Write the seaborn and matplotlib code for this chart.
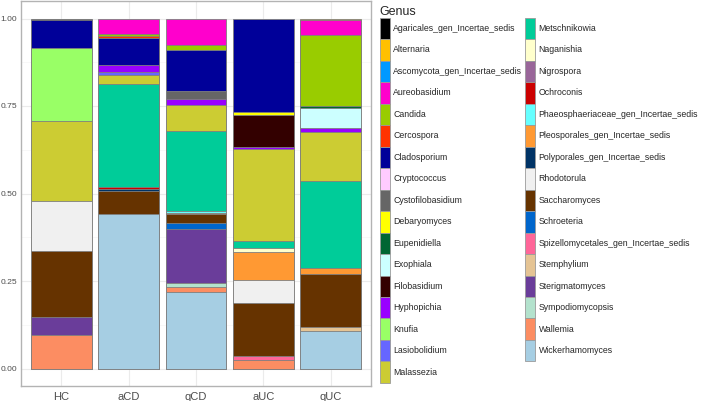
import numpy as np
import pandas as pd
import seaborn as sns
import matplotlib.pyplot as plt
from matplotlib.patches import Patch

sns.set_style('white')
plt.rcParams['font.family'] = ['Liberation Sans', 'DejaVu Sans']

# 样本组
groups = ['HC', 'aCD', 'qCD', 'aUC', 'qUC']

# 属名（按字母顺序，ggplot 里第一个在最上面）
genera = ['Agaricales_gen_Incertae_sedis', 'Alternaria', 'Ascomycota_gen_Incertae_sedis',
          'Aureobasidium', 'Candida', 'Cercospora', 'Cladosporium', 'Cryptococcus',
          'Cystofilobasidium', 'Debaryomyces', 'Eupenidiella', 'Exophiala', 'Filobasidium',
          'Hyphopichia', 'Knufia', 'Lasiobolidium', 'Malassezia', 'Metschnikowia',
          'Naganishia', 'Nigrospora', 'Ochroconis', 'Phaeosphaeriaceae_gen_Incertae_sedis',
          'Pleosporales_gen_Incertae_sedis', 'Polyporales_gen_Incertae_sedis', 'Rhodotorula',
          'Saccharomyces', 'Schroeteria', 'Spizellomycetales_gen_Incertae_sedis',
          'Stemphylium', 'Sterigmatomyces', 'Sympodiomycopsis', 'Wallemia', 'Wickerhamomyces']

colors = ['#000000', '#FFC000', '#0099FF', '#FF00CC', '#99CC00', '#FF3300', '#000099',
          '#FFCCFF', '#666666', '#FFFF00', '#006633', '#CCFFFF', '#330000', '#9900FF',
          '#99FF66', '#6666FF', '#CCCC33', '#00CC99', '#FFFFCC', '#996699', '#CC0000',
          '#66FFFF', '#FF9933', '#003366', '#F0F0F0', '#663300', '#0066CC', '#FF6699',
          '#E5C494', '#6A3D9A', '#B3E2CD', '#FC8D62', '#A6CEE3']

# 相对丰度（顺序同 genera）
hc  = [.003, 0, 0, 0, 0, 0, .082, 0, 0, 0, 0, 0, 0, 0, .208, 0, .229, 0,
       0, 0, 0, 0, 0, 0, .142, .188, 0, 0, 0, .053, 0, .095, 0]
acd = [0, 0, 0, .044, .006, .006, .076, 0, 0, 0, 0, 0, 0, .021, 0, .007, .028, .294,
       0, 0, .004, 0, 0, .008, 0, .065, 0, 0, 0, 0, 0, 0, .441]
qcd = [0, 0, 0, .076, .013, 0, .119, 0, .021, 0, 0, 0, 0, .017, 0, 0, .075, .230,
       0, 0, 0, .004, .005, 0, 0, .024, .018, 0, 0, .154, .011, .013, .220]
auc = [0, 0, 0, 0, 0, 0, .266, 0, 0, .011, 0, 0, .089, .006, 0, 0, .264, .019,
       .012, 0, 0, 0, .079, 0, .066, .153, 0, .012, 0, 0, 0, .023, 0]
quc = [0, .005, 0, .042, .204, 0, 0, 0, 0, 0, .005, .057, 0, .010, 0, 0, .141, .250,
       0, 0, 0, 0, .015, 0, 0, .151, 0, 0, .013, 0, 0, 0, .107]

df = pd.DataFrame({'HC': hc, 'aCD': acd, 'qCD': qcd, 'aUC': auc, 'qUC': quc}, index=genera)
# 从下往上累加，画的时候先画最高的再覆盖
cum = df.iloc[::-1].cumsum().iloc[::-1]

fig = plt.figure(figsize=(7.02, 4.01), dpi=100)
ax = fig.add_axes([21 / 702, 15 / 401, 350 / 702, 385 / 401])

for i, g in enumerate(genera):
    keep = [grp for grp in groups if df.loc[g, grp] > 0]
    if not keep:
        continue
    sns.barplot(x=keep, y=[cum.loc[g, grp] for grp in keep], order=groups,
                color=colors[i], saturation=1, width=0.9, edgecolor='#7F7F7F',
                linewidth=0.6, errorbar=None, ax=ax)

ax.set_ylim(-0.05, 1.05)
ax.set_xlim(-0.6, 4.6)
ax.set_yticks([0, 0.25, 0.5, 0.75, 1.0])
ax.set_yticklabels(['0.00', '0.25', '0.50', '0.75', '1.00'])
ax.set_yticks([0.125, 0.375, 0.625, 0.875], minor=True)
ax.set_xlabel('')
ax.set_ylabel('')
ax.set_axisbelow(True)
ax.grid(True, which='major', color='#EBEBEB', linewidth=0.8)
ax.grid(True, which='minor', axis='y', color='#F5F5F5', linewidth=0.5)
for s in ax.spines.values():
    s.set_color('#B3B3B3')
    s.set_linewidth(1.0)
ax.tick_params(axis='both', which='major', length=2, width=0.6, color='#B3B3B3',
               labelcolor='#4D4D4D', labelsize=6.1, pad=1)
ax.tick_params(axis='y', which='minor', length=0)
ax.tick_params(axis='x', labelsize=8, pad=2)

handles = [Patch(facecolor=c, edgecolor='#9A9A9A', linewidth=0.6) for c in colors]
leg = fig.legend(handles, genera, loc='upper left', bbox_to_anchor=(378 / 702, 1 - 4 / 401),
                 ncol=2, frameon=False, title='Genus', fontsize=6.3,
                 title_fontsize=9, handlelength=1.15, handleheight=3.4,
                 labelspacing=0, handletextpad=0.4, columnspacing=0.3,
                 borderaxespad=0, borderpad=0.2)
leg._legend_box.align = 'left'

fig.savefig('out.png', dpi=100)
